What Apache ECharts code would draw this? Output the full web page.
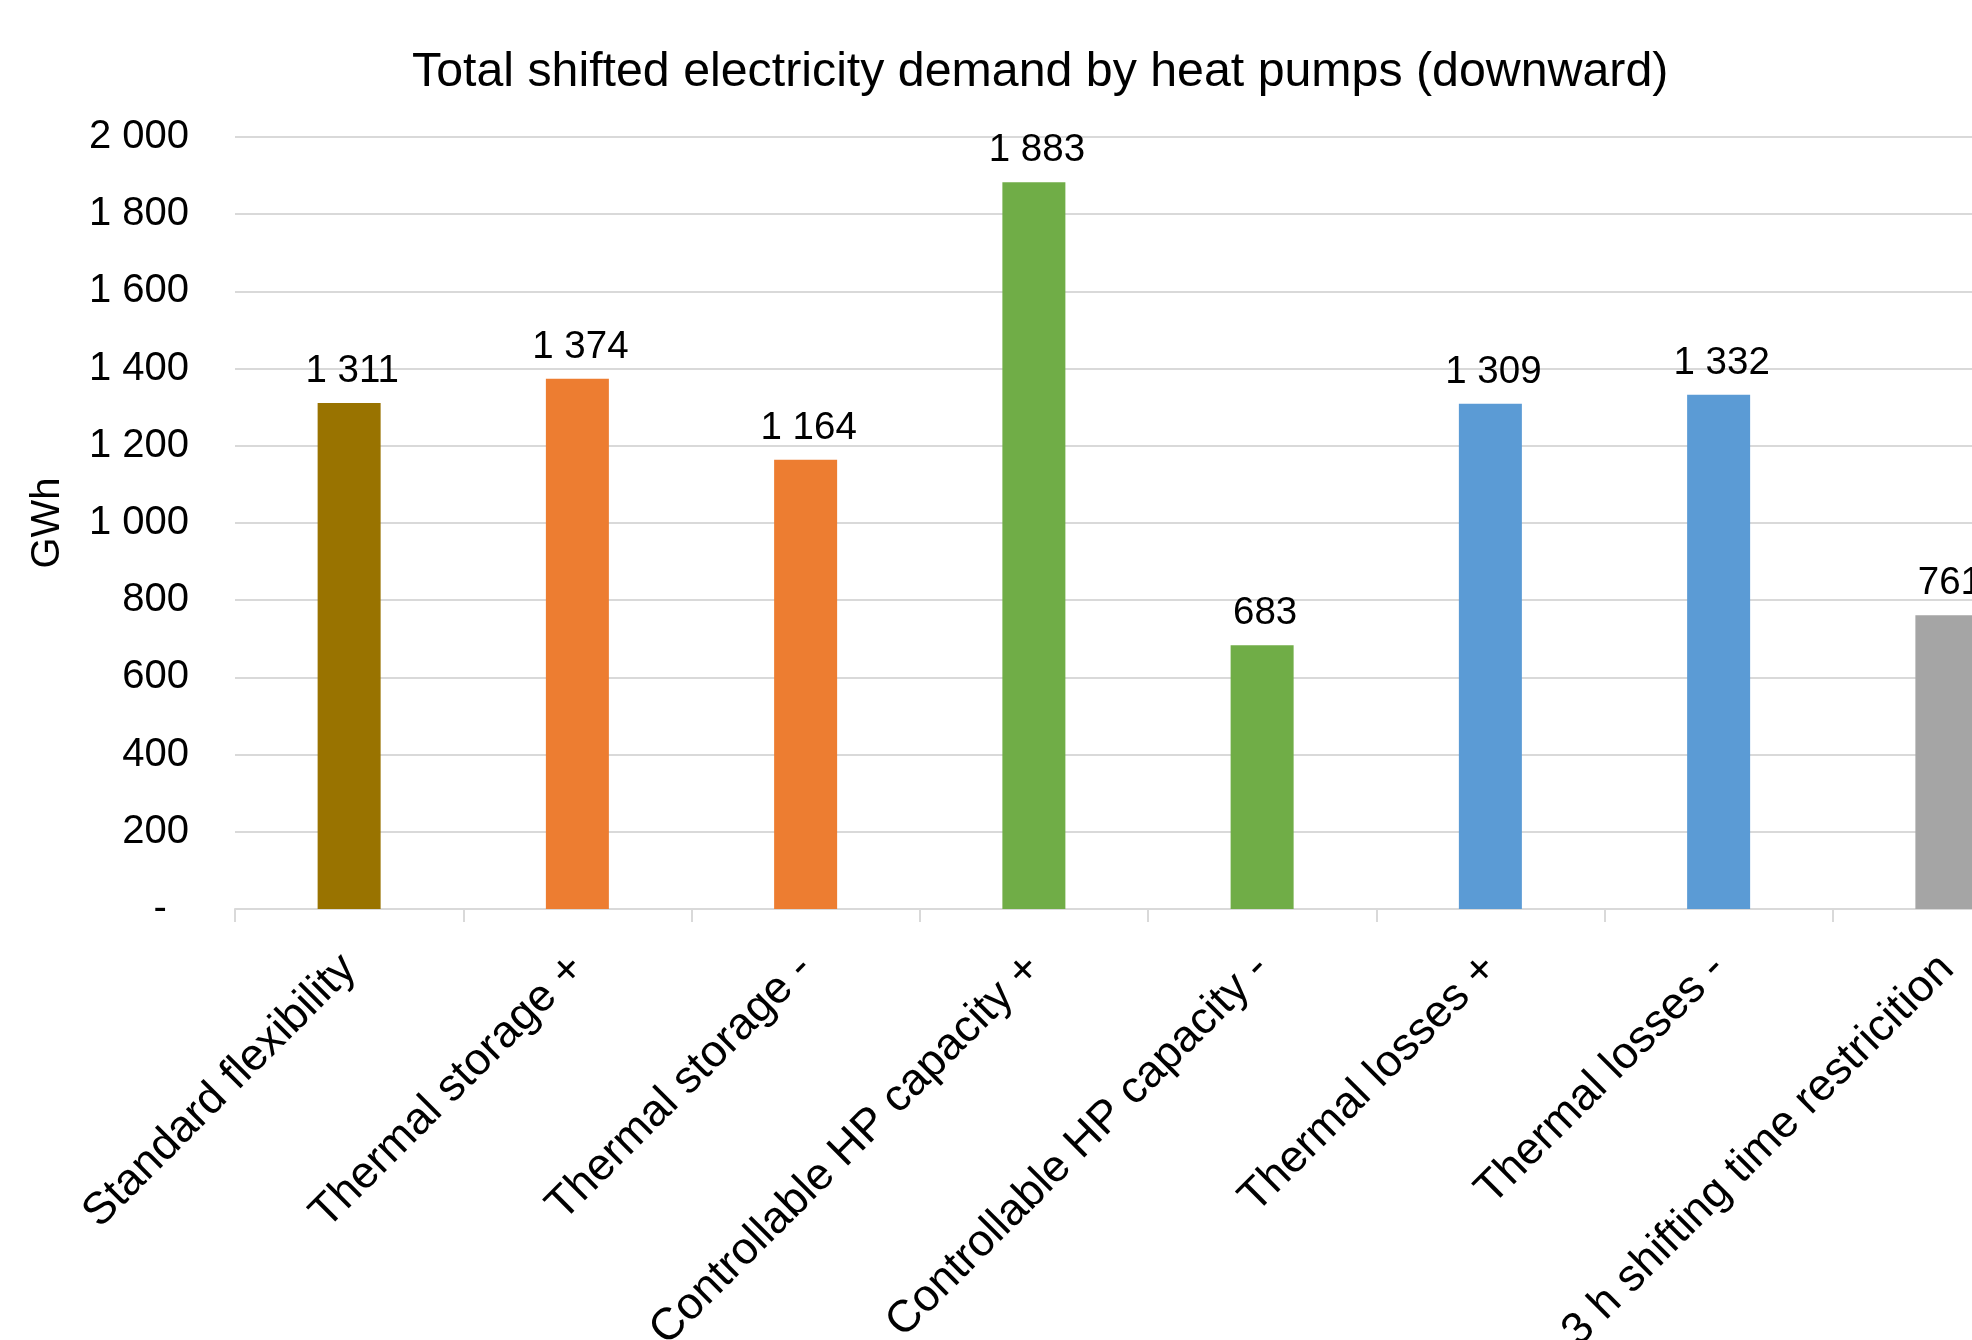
<!DOCTYPE html>
<html>
<head>
<meta charset="utf-8">
<script src="https://cdn.jsdelivr.net/npm/echarts@6/dist/echarts.min.js"></script>
<style>
  html, body { margin: 0; padding: 0; background: #ffffff; }
  #chart { width: 1972px; height: 1340px; }
</style>
</head>
<body>
<div id="chart"></div>
<script>
// Scenarios and shifted demand (GWh)
const categories = [
  'Standard flexibility',
  'Thermal storage +',
  'Thermal storage -',
  'Controllable HP capacity +',
  'Controllable HP capacity -',
  'Thermal losses +',
  'Thermal losses -',
  '3 h shifting time restricition'
];
const shiftedDemand = [1311, 1374, 1164, 1883, 683, 1309, 1332, 761];
const barColors = ['#997300', '#ED7D31', '#ED7D31', '#70AD47', '#70AD47', '#5B9BD5', '#5B9BD5', '#A5A5A5'];

const yMin = 0;
const yMax = 2000;
const yStep = 200;

const FONT = '"Liberation Sans", Arial, sans-serif';

// "1 311" style thousands grouping, dash for zero
function fmt(v) {
  if (v === 0) return '-\u00a0\u00a0';
  return String(Math.round(v)).replace(/\B(?=(\d{3})+(?!\d))/g, ' ');
}

const chart = echarts.init(document.getElementById('chart'), null, { renderer: 'canvas' });

chart.setOption({
  backgroundColor: '#ffffff',
  animation: false,
  title: {
    text: 'Total shifted electricity demand by heat pumps (downward)',
    left: 407,
    top: 44,
    textStyle: { fontFamily: FONT, fontSize: 48.3, fontWeight: 'normal', color: '#000000' }
  },
  grid: {
    left: 235,
    right: -89,
    top: 137,
    bottom: 431,
    containLabel: false,
    outerBoundsMode: 'none'
  },
  xAxis: {
    type: 'category',
    data: categories,
    boundaryGap: true,
    axisLine: { show: true, lineStyle: { color: '#D9D9D9', width: 2 } },
    axisTick: { show: true, length: 13, lineStyle: { color: '#D9D9D9', width: 2 } },
    axisLabel: {
      rotate: 45,
      interval: 0,
      margin: 53,
      hideOverlap: false,
      fontFamily: FONT,
      fontSize: 45,
      color: '#000000'
    },
    splitLine: { show: false }
  },
  yAxis: {
    type: 'value',
    min: yMin,
    max: yMax,
    interval: yStep,
    name: 'GWh',
    nameLocation: 'middle',
    nameGap: 167,
    nameTextStyle: { fontFamily: FONT, fontSize: 40, color: '#000000' },
    axisLine: { show: false },
    axisTick: { show: false },
    axisLabel: {
      margin: 46,
      fontFamily: FONT,
      fontSize: 40,
      color: '#000000',
      formatter: fmt
    },
    splitLine: { show: true, lineStyle: { color: '#D9D9D9', width: 2 } }
  },
  series: [{
    type: 'bar',
    data: shiftedDemand.map((v, i) => ({ value: v, itemStyle: { color: barColors[i] } })),
    barWidth: 63,
    label: {
      show: true,
      position: 'top',
      distance: 12,
      offset: [3, 0],
      fontFamily: FONT,
      fontSize: 38.5,
      color: '#000000',
      formatter: p => fmt(p.value)
    }
  }]
});
</script>
</body>
</html>
